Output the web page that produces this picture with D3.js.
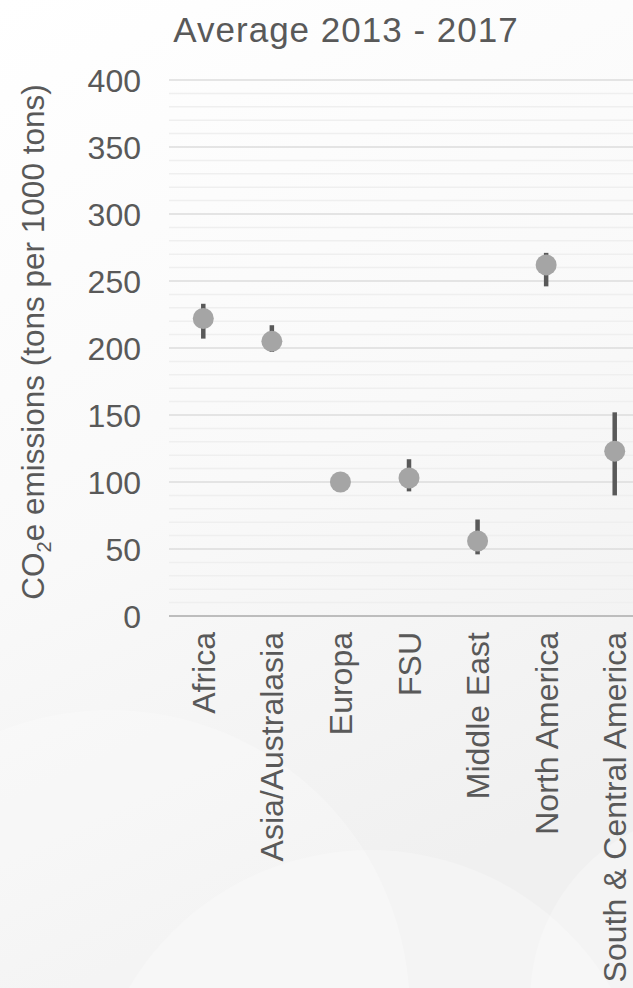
<!DOCTYPE html>
<html>
<meta charset="utf-8">
<style>

body {
  margin: 0;
  font-family: "Liberation Sans", Arial, sans-serif;
}

svg {
  display: block;
}

text {
  fill: #595959;
}

.grid-minor line {
  stroke: #efefef;
  stroke-width: 1.5px;
}

.grid-major line {
  stroke: #dcdcdc;
  stroke-width: 1.5px;
}

.axis-base {
  stroke: #bdbdbd;
  stroke-width: 2px;
}

.err {
  stroke: #595959;
  stroke-width: 4.5px;
}

.dot {
  fill: #a5a5a5;
}

</style>
<body>
<script src="https://d3js.org/d3.v7.min.js"></script>
<script>

var categories = ["Africa", "Asia/Australasia", "Europa", "FSU", "Middle East", "North America", "South & Central America"];
var averages = [222, 205, 100, 103, 56, 262, 123];
var lows = [207, 197, 98, 93, 46, 246, 90];
var highs = [233, 217, 102, 117, 72, 271, 152];
var majorTicks = [0, 50, 100, 150, 200, 250, 300, 350, 400];
var minorTicks = d3.range(0, 401, 10);

var width = 633,
    height = 988;

var svg = d3.select("body").append("svg")
    .attr("width", width)
    .attr("height", height);

// soft slide background
var defs = svg.append("defs");

var bg = defs.append("linearGradient")
    .attr("id", "bg")
    .attr("x1", 0).attr("y1", 0)
    .attr("x2", 0.3).attr("y2", 1);
bg.append("stop").attr("offset", "0%").attr("stop-color", "#ffffff");
bg.append("stop").attr("offset", "55%").attr("stop-color", "#f9f9f9");
bg.append("stop").attr("offset", "100%").attr("stop-color", "#f0f0f0");

svg.append("rect")
    .attr("width", width)
    .attr("height", height)
    .attr("fill", "url(#bg)");

var blobs = [[110, 1010, 300], [370, 1130, 280], [720, 1000, 190]];
svg.selectAll(".blob")
    .data(blobs)
  .enter().append("circle")
    .attr("class", "blob")
    .attr("cx", function(d) { return d[0]; })
    .attr("cy", function(d) { return d[1]; })
    .attr("r", function(d) { return d[2]; })
    .attr("fill", "#ffffff")
    .attr("fill-opacity", 0.25);

var x = d3.scaleBand()
    .domain(categories)
    .range([169, 649]);

var y = d3.scaleLinear()
    .domain([0, 400])
    .range([616, 80]);

var plot = svg.append("g");

plot.append("g")
    .attr("class", "grid-minor")
  .selectAll("line")
    .data(minorTicks.filter(function(d) { return d % 50; }))
  .enter().append("line")
    .attr("x1", 169)
    .attr("x2", width)
    .attr("y1", function(d) { return y(d); })
    .attr("y2", function(d) { return y(d); });

plot.append("g")
    .attr("class", "grid-major")
  .selectAll("line")
    .data(majorTicks.filter(function(d) { return d > 0; }))
  .enter().append("line")
    .attr("x1", 169)
    .attr("x2", width)
    .attr("y1", function(d) { return y(d); })
    .attr("y2", function(d) { return y(d); });

plot.append("line")
    .attr("class", "axis-base")
    .attr("x1", 169)
    .attr("x2", width)
    .attr("y1", y(0))
    .attr("y2", y(0));

// y tick labels
var yAxis = d3.axisLeft(y)
    .tickValues(majorTicks)
    .tickSize(0)
    .tickPadding(0);

var yg = svg.append("g")
    .attr("transform", "translate(141,0)")
    .call(yAxis);
yg.select(".domain").remove();
yg.selectAll("text")
    .attr("font-family", "Liberation Sans, Arial, sans-serif")
    .attr("font-size", 32)
    .attr("fill", "#595959")
    .attr("dy", "0.36em");

// x category labels
var xAxis = d3.axisBottom(x)
    .tickSize(0)
    .tickPadding(0);

var xg = svg.append("g")
    .attr("transform", "translate(0," + (y(0) + 16) + ")")
    .call(xAxis);
xg.select(".domain").remove();
xg.selectAll("text")
    .attr("font-family", "Liberation Sans, Arial, sans-serif")
    .attr("font-size", 32)
    .attr("fill", "#595959")
    .attr("text-anchor", "end")
    .attr("transform", "rotate(-90)")
    .attr("x", 0)
    .attr("y", 0)
    .attr("dx", 0)
    .attr("dy", "0.36em");

// error bars and points
var rows = categories.map(function(c, i) {
  return {name: c, avg: averages[i], lo: lows[i], hi: highs[i]};
});

plot.selectAll(".err")
    .data(rows)
  .enter().append("line")
    .attr("class", "err")
    .attr("x1", function(d) { return x(d.name) + x.bandwidth() / 2; })
    .attr("x2", function(d) { return x(d.name) + x.bandwidth() / 2; })
    .attr("y1", function(d) { return y(d.lo); })
    .attr("y2", function(d) { return y(d.hi); });

plot.selectAll(".dot")
    .data(rows)
  .enter().append("circle")
    .attr("class", "dot")
    .attr("cx", function(d) { return x(d.name) + x.bandwidth() / 2; })
    .attr("cy", function(d) { return y(d.avg); })
    .attr("r", 10.5);

// title
svg.append("text")
    .attr("x", 346)
    .attr("y", 42)
    .attr("text-anchor", "middle")
    .attr("font-size", 35)
    .attr("letter-spacing", 1)
    .text("Average 2013 - 2017");

// y axis title
var ylab = svg.append("text")
    .attr("transform", "translate(44,342) rotate(-90)")
    .attr("text-anchor", "middle")
    .attr("font-size", 31.5);
ylab.append("tspan").text("CO");
ylab.append("tspan")
    .attr("font-size", 20)
    .attr("dy", 7)
    .text("2");
ylab.append("tspan")
    .attr("dy", -7)
    .text("e emissions (tons per 1000 tons)");

</script>
</body>
</html>
